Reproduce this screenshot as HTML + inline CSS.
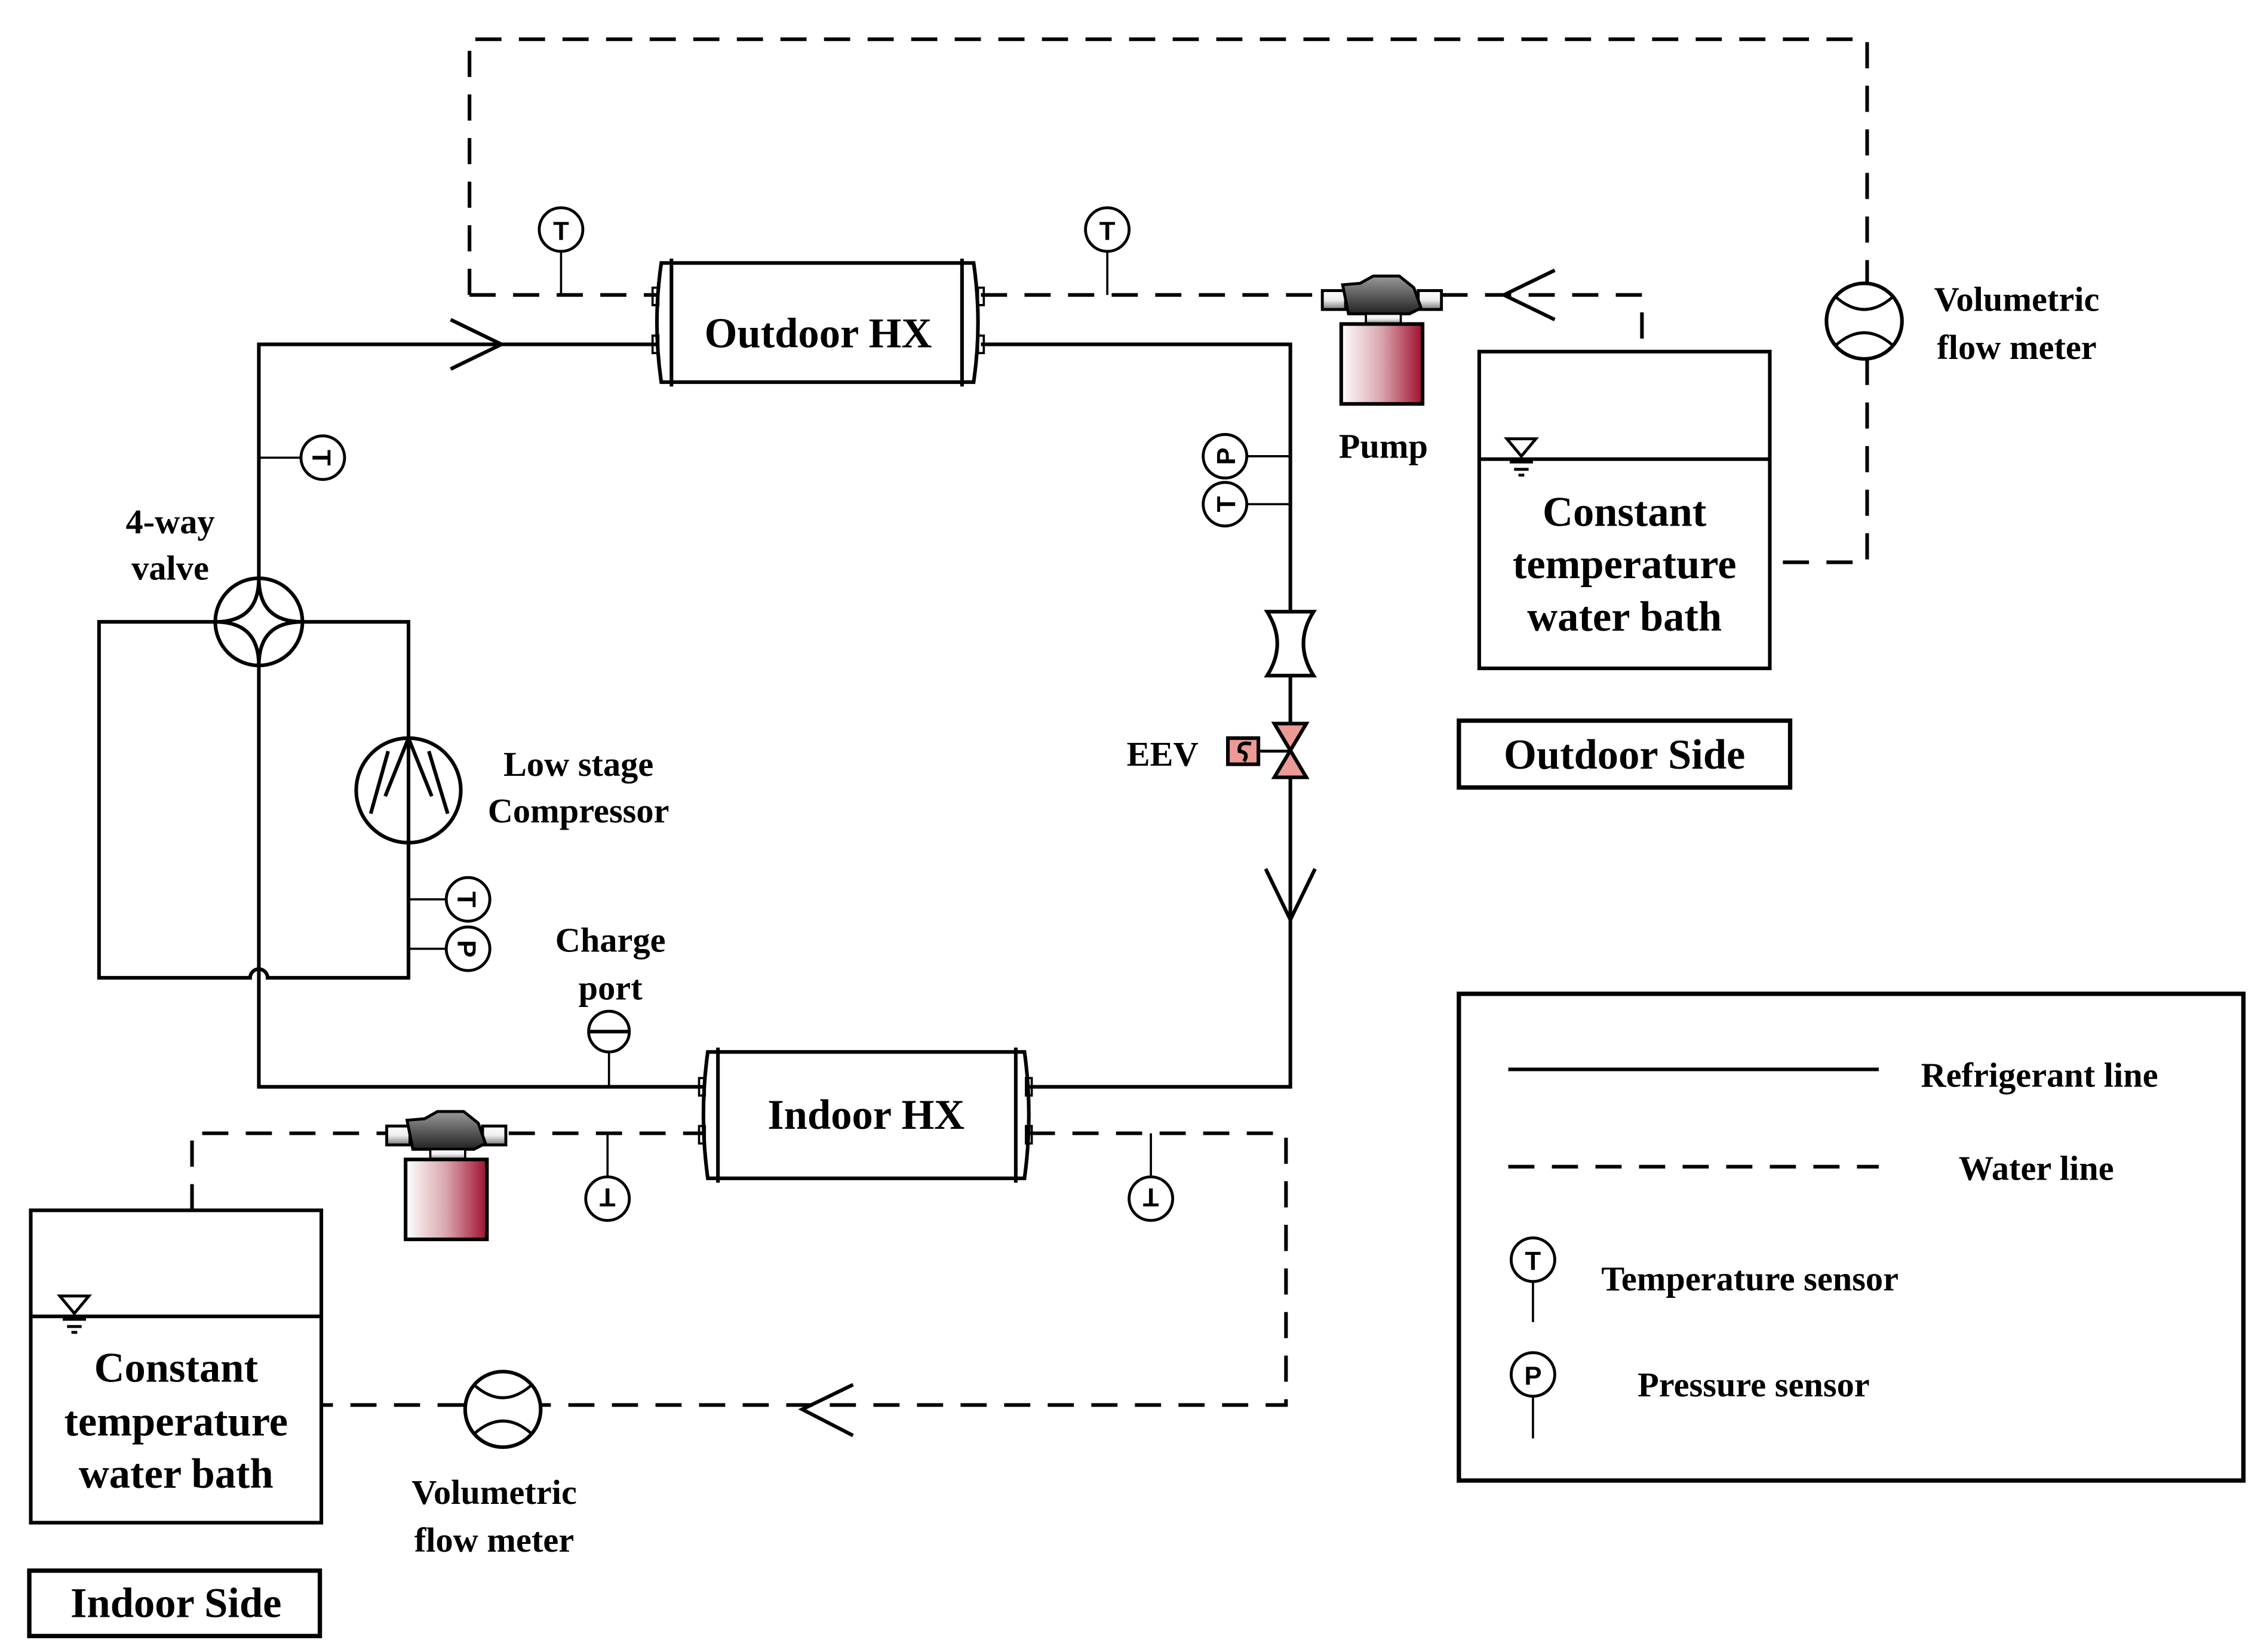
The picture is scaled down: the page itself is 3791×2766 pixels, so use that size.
<!DOCTYPE html>
<html><head><meta charset="utf-8"><style>
html,body{margin:0;padding:0;background:#fff}
svg{display:block}
text{font-family:"Liberation Serif",serif;font-weight:bold;fill:#000}
.s{font-family:"Liberation Sans",sans-serif;font-weight:bold}
</style></head><body>
<svg width="3791" height="2766" viewBox="0 0 1558 1137" xmlns="http://www.w3.org/2000/svg">
<defs>
<linearGradient id="pg" x1="0" x2="1" y1="0" y2="0"><stop offset="0" stop-color="#fff"/><stop offset="0.5" stop-color="#d9a5ad"/><stop offset="1" stop-color="#a01030"/></linearGradient>
<linearGradient id="hg" x1="0" x2="0" y1="0" y2="1"><stop offset="0" stop-color="#999"/><stop offset="1" stop-color="#222"/></linearGradient>
<linearGradient id="cg" x1="0" x2="0" y1="0" y2="1"><stop offset="0" stop-color="#fff"/><stop offset="0.5" stop-color="#eee"/><stop offset="1" stop-color="#777"/></linearGradient>
<g id="pump">
<rect x="0" y="10" width="16" height="13" fill="url(#cg)" stroke="#000" stroke-width="2"/>
<rect x="66" y="10" width="16" height="13" fill="url(#cg)" stroke="#000" stroke-width="2"/>
<path d="M14 6 L26 5 L35 0 L53 0 L63 8 L68 22 L60 26 L18 26 Z" fill="url(#hg)" stroke="#000" stroke-width="2"/>
<rect x="30" y="26" width="24" height="7" fill="url(#cg)" stroke="#000" stroke-width="1.5"/>
<rect x="13" y="33" width="56" height="55" fill="url(#pg)" stroke="#000" stroke-width="2.5"/>
</g>
</defs>
<g fill="none" stroke="#000" stroke-width="2.5">
<g stroke-dasharray="18,12">
<path d="M323 203 V27 H1285 V195"/>
<path d="M1285 247 V387 H1220"/>
<path d="M323 203 H452"/>
<path d="M675 203 H910"/>
<path d="M992 203 H1130 V240"/>
<path d="M132 833 V780 H268"/>
<path d="M350 780 H484"/>
<path d="M708 780 H885 V967 H222"/>
<path d="M1038 803 H1293"/>
</g>
<path d="M1070 186 L1035 203 L1070 220"/>
<path d="M587 953 L552 970 L587 988"/>
<circle cx="1283" cy="221" r="26" fill="#fff"/>
<path d="M1263 204 Q1283 222 1303 204 M1263 238 Q1283 220 1303 238" stroke-width="2"/>
<circle cx="346" cy="970" r="26" fill="#fff"/>
<path d="M326 953 Q346 971 366 953 M326 987 Q346 969 366 987" stroke-width="2"/>
<path d="M178 398 V237 H452"/>
<path d="M310 220 L345 237 L310 254"/>
<path d="M675 237 H888 V420"/>
<path d="M888 465 V497"/>
<path d="M888 535 V748 H708"/>
<path d="M871 598 L888 633 L905 598"/>
<path d="M148 428 H68 V673 H172 A6 6 0 0 1 184 673 H281 V428 H208"/>
<path d="M178 458 V748 H486"/>
<circle cx="281" cy="544" r="36" fill="#fff"/>
<path d="M281 673 V508 M281 508 L265 548 M281 508 L297 548 M267 517 L255 560 M295 517 L308 560"/>
<circle cx="178" cy="428" r="30" fill="#fff"/>
<path d="M178 398 Q178 428 148 428 Q178 428 178 458 Q178 428 208 428 Q178 428 178 398 Z" stroke-width="2.5"/>
<path d="M872 421 H904 Q890 443 904 465 H872 Q886 443 872 421 Z" fill="#fff" stroke-width="2.5"/>
<path d="M877 498 H899 L877 535 H899 Z" fill="#ec9a94" stroke-width="2.5"/>
<path d="M866 517 H888" stroke-width="2"/>
<rect x="845" y="508" width="21" height="18" fill="#ec9a94" stroke-width="2.5"/>
<path d="M861 512 Q852 510 853 517 Q860 518 856 524" stroke-width="2.5"/>
<path d="M455 181 H670 Q676 222 670 263 H455 Q449 222 455 181 Z" fill="#fff"/>
<path d="M462 178 V266 M662 178 V266"/>
<path d="M449 198 h4 v12 h-4 Z M449 231 h4 v12 h-4 Z M673 198 h4 v12 h-4 Z M673 231 h4 v12 h-4 Z" stroke-width="1.5"/>
<path d="M487 724 H705 Q711 767 705 811 H487 Q481 767 487 724 Z" fill="#fff"/>
<path d="M494 721 V814 M699 721 V814"/>
<path d="M481 742 h4 v12 h-4 Z M481 775 h4 v12 h-4 Z M706 742 h4 v12 h-4 Z M706 775 h4 v12 h-4 Z" stroke-width="1.5"/>
<rect x="1018" y="242" width="200" height="218"/>
<path d="M1018 316 H1218"/>
<rect x="21" y="833" width="200" height="215"/>
<path d="M21 906 H221"/>
<path d="M1037 302 H1057 L1047 314 Z M1039 318 H1055 M1042 323 H1052 M1045 327 H1049" stroke-width="2"/>
<path d="M41 892 H61 L51 904 Z M43 908 H59 M46 913 H56 M49 917 H53" stroke-width="2"/>
<rect x="1004" y="496" width="228" height="46" stroke-width="3"/>
<rect x="20" y="1081" width="200" height="45" stroke-width="3"/>
<rect x="1004" y="684" width="540" height="335" stroke-width="3"/>
<path d="M1038 736 H1293"/>
<g stroke-width="1.5">
<path d="M386 173 V203 M762 173 V203 M178 315 H207 M858 314 H888 M858 347 H888 M281 619 H307 M281 653 H307 M418 780 V810 M792 780 V810 M1055 882 V910 M1055 961 V990 M419 724 V748"/>
</g>
<g stroke-width="2" fill="#fff">
<circle cx="386" cy="158" r="15"/><circle cx="762" cy="158" r="15"/>
<circle cx="222" cy="315" r="15"/><circle cx="843" cy="314" r="15"/><circle cx="843" cy="347" r="15"/>
<circle cx="322" cy="619" r="15"/><circle cx="322" cy="653" r="15"/>
<circle cx="418" cy="825" r="15"/><circle cx="792" cy="825" r="15"/>
<circle cx="1055" cy="867" r="15"/><circle cx="1055" cy="946" r="15"/>
<circle cx="419" cy="710" r="14"/>
</g>
<path d="M405 710 H433" stroke-width="2.5"/>
</g>
<use href="#pump" x="910" y="190"/>
<use href="#pump" x="266" y="765"/>
<g class="s" font-size="18" text-anchor="middle">
<text class="s" x="386" y="165">T</text>
<text class="s" x="762" y="165">T</text>
<text class="s" transform="translate(222,315) rotate(90)" y="7">T</text>
<text class="s" transform="translate(843,314) rotate(-90)" y="7">P</text>
<text class="s" transform="translate(843,347) rotate(-90)" y="7">T</text>
<text class="s" transform="translate(322,619) rotate(90)" y="7">T</text>
<text class="s" transform="translate(322,653) rotate(90)" y="7">P</text>
<text class="s" transform="translate(418,825) rotate(180)" y="7">T</text>
<text class="s" transform="translate(792,825) rotate(180)" y="7">T</text>
<text class="s" x="1055" y="874">T</text>
<text class="s" x="1055" y="953">P</text>
</g>
<g font-size="29" text-anchor="middle">
<text x="563" y="239">Outdoor HX</text>
<text x="596" y="777">Indoor HX</text>
<text x="1118" y="362">Constant</text>
<text x="1118" y="398">temperature</text>
<text x="1118" y="434">water bath</text>
<text x="121" y="951">Constant</text>
<text x="121" y="988">temperature</text>
<text x="121" y="1024">water bath</text>
<text x="1118" y="529">Outdoor Side</text>
<text x="121" y="1113">Indoor Side</text>
</g>
<g font-size="24" text-anchor="middle">
<text x="117" y="367">4-way</text>
<text x="117" y="399">valve</text>
<text x="398" y="534">Low stage</text>
<text x="398" y="566">Compressor</text>
<text x="420" y="655">Charge</text>
<text x="420" y="688">port</text>
<text x="800" y="527">EEV</text>
<text x="952" y="315">Pump</text>
<text x="1388" y="214">Volumetric</text>
<text x="1388" y="247">flow meter</text>
<text x="340" y="1035">Volumetric</text>
<text x="340" y="1068">flow meter</text>
</g>
<g font-size="24">
<text x="1322" y="748">Refrigerant line</text>
<text x="1348" y="812">Water line</text>
<text x="1102" y="888">Temperature sensor</text>
<text x="1127" y="961">Pressure sensor</text>
</g>
</svg>
</body></html>
